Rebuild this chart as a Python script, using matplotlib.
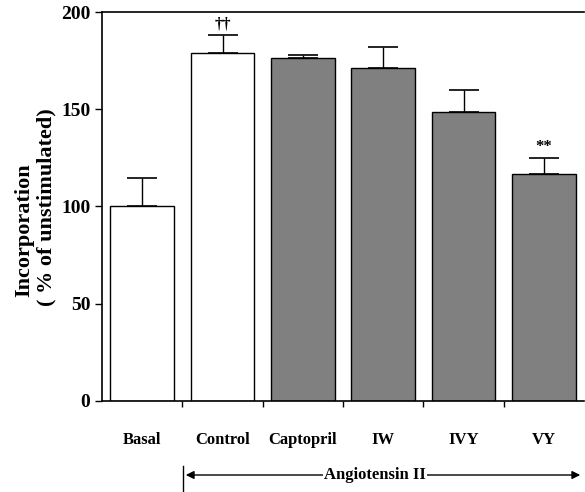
import numpy as np
import matplotlib
matplotlib.use("Agg")
import matplotlib.pyplot as plt

labels = ['Basal', 'Control', 'Captopril', 'IW', 'IVY', 'VY']
values = [100, 179, 176.5, 171, 148.5, 116.5]
errors = [14.5, 9, 1.5, 11, 11.5, 8.5]
colors = ['white', 'white', '#808080', '#808080', '#808080', '#808080']
marks = ['', '\u2020\u2020', '', '', '', '**']

plt.rcParams['font.family'] = 'Liberation Serif'
plt.rcParams['font.weight'] = 'bold'
plt.rcParams['axes.labelweight'] = 'bold'

fig = plt.figure(figsize=(5.85, 4.92), dpi=100)
ax = fig.add_axes([0.1744, 0.185, 0.824, 0.7906])

x = np.arange(len(labels))
ax.bar(x, values, width=0.79, color=colors, edgecolor='black', linewidth=1.0, zorder=2)
ax.errorbar(x, values, yerr=[np.zeros(len(values)), errors], fmt='none',
            ecolor='black', elinewidth=1.0, capsize=11, capthick=1.2, zorder=1)

for xi, v, e, m in zip(x, values, errors, marks):
    if m:
        ax.text(xi, v + e + 1.5, m, ha='center', va='bottom', fontsize=12)

ax.set_xlim(-0.5, 5.5)
ax.set_ylim(0, 200)
ax.set_yticks([0, 50, 100, 150, 200])
ax.tick_params(axis='y', labelsize=14, direction='out', length=5, width=1)
ax.set_xticks(x)
ax.set_xticklabels(labels, fontsize=12)
ax.tick_params(axis='x', which='major', length=0, pad=22)
ax.set_xticks(x[:-1] + 0.5, minor=True)
ax.tick_params(axis='x', which='minor', length=4, width=1)
ax.spines['right'].set_visible(False)
for s in ['left', 'bottom', 'top']:
    ax.spines[s].set_linewidth(1.2)

# two-line y label, lines placed separately as in the original
fig.text(24/585, 1-230/492, 'Incorporation', rotation=90, ha='center', va='center', fontsize=16)
fig.text(46/585, 1-207/492, '( % of unstimulated)', rotation=90, ha='center', va='center', fontsize=16)

# Angiotensin II arrow under the treated groups
fig.add_artist(plt.Line2D([183/585, 183/585], [1-466/492, 1-491/492], color='black', lw=1))
fig.patches.append(matplotlib.patches.FancyArrowPatch(
    (183/585, 1-475/492), (583/585, 1-475/492), transform=fig.transFigure,
    arrowstyle='<|-|>', mutation_scale=12, color='black', lw=1))
fig.text(375/585, 1-475/492, 'Angiotensin II', ha='center', va='center', fontsize=12,
         bbox=dict(facecolor='white', edgecolor='none', pad=0.5))

fig.savefig('out.png', dpi=100)
